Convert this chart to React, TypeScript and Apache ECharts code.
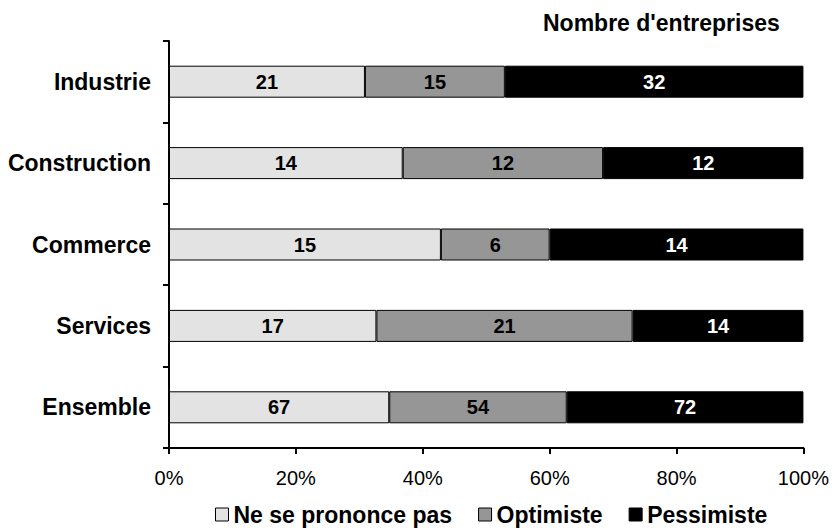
import React, { useEffect, useRef } from "react";
import * as echarts from "echarts";

const categories = ["Industrie", "Construction", "Commerce", "Services", "Ensemble"];
const seriesNames = ["Ne se prononce pas", "Optimiste", "Pessimiste"];
const neSePrononcePas = [21, 14, 15, 17, 67];
const optimiste = [15, 12, 6, 21, 54];
const pessimiste = [32, 12, 14, 14, 72];
const xTicks = [0, 20, 40, 60, 80, 100];

const colors = ["#e3e3e3", "#969696", "#000000"];
const labelColors = ["#000000", "#000000", "#ffffff"];
const FONT = "'Liberation Sans', Arial, sans-serif";

export default function App() {
  const ref = useRef<HTMLDivElement>(null);

  useEffect(() => {
    if (!ref.current) return;
    const chart = echarts.init(ref.current, null, { renderer: "svg" });
    const counts = [neSePrononcePas, optimiste, pessimiste];
    const totals = categories.map((_, i) => counts.reduce((s, arr) => s + arr[i], 0));
    // each bar is the share of its row total; the label shows the raw count
    const series = counts.map((arr, si) => ({
      name: seriesNames[si],
      type: "bar",
      stack: "total",
      barWidth: 32,
      data: arr.map((v, i) => ({ value: (v / totals[i]) * 100, count: v })),
      itemStyle: { color: colors[si], borderColor: "#000", borderWidth: 1 },
      label: {
        show: true,
        position: "inside",
        color: labelColors[si],
        fontFamily: FONT,
        fontWeight: "bold",
        fontSize: 20,
        formatter: (p: any) => String(p.data.count),
      },
    }));

    chart.setOption({
      animation: false,
      backgroundColor: "#fff",
      title: {
        text: "Nombre d'entreprises",
        left: 543,
        top: 11,
        padding: 0,
        textStyle: { fontFamily: FONT, fontWeight: "bold", fontSize: 23, color: "#000" },
      },
      grid: { left: 169, right: 28, top: 41, bottom: 80, containLabel: false },
      legend: {
        top: 503,
        left: 215,
        padding: 0,
        itemWidth: 13,
        itemHeight: 13,
        itemGap: 26,
        icon: "rect",
        textStyle: { fontFamily: FONT, fontWeight: "bold", fontSize: 23, color: "#000" },
        data: seriesNames.map((n, i) => ({
          name: n,
          itemStyle: { color: colors[i], borderColor: "#000", borderWidth: 1 },
        })),
      },
      xAxis: {
        type: "value",
        min: 0,
        max: 100,
        interval: 20,
        axisLine: { show: true, lineStyle: { color: "#000", width: 2 } },
        axisTick: { show: true, length: 6, lineStyle: { color: "#000", width: 2 } },
        splitLine: { show: false },
        axisLabel: {
          margin: 20,
          fontFamily: FONT,
          fontSize: 20,
          color: "#000",
          formatter: (v: number) => (xTicks.includes(v) ? `${v}%` : ""),
        },
      },
      yAxis: {
        type: "category",
        inverse: true,
        data: categories,
        axisLine: { show: true, lineStyle: { color: "#000", width: 2 } },
        axisTick: { show: true, length: 6, inside: false, lineStyle: { color: "#000", width: 2 } },
        axisLabel: {
          margin: 18,
          fontFamily: FONT,
          fontWeight: "bold",
          fontSize: 23,
          color: "#000",
        },
      },
      series,
    });

    return () => chart.dispose();
  }, []);

  return (
    <div
      ref={ref}
      style={{ position: "fixed", left: 0, top: 0, width: 832, height: 528 }}
    />
  );
}
